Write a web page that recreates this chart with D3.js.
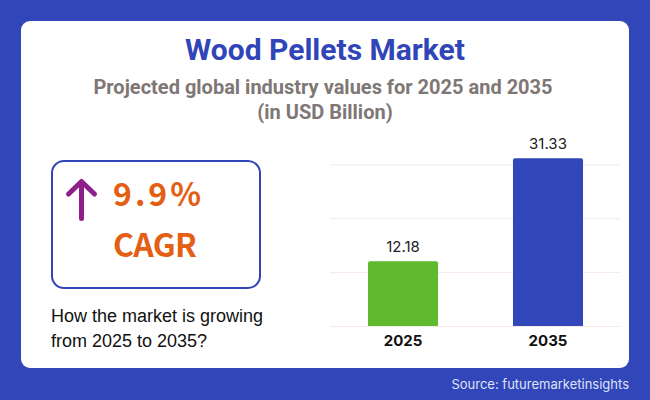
<!DOCTYPE html>
<html><head><meta charset="utf-8">
<script src="https://cdn.jsdelivr.net/npm/d3@7"></script>
<style>html,body{margin:0;padding:0;background:#3146b8}svg{display:block}</style>
</head><body>
<script>
const categories = ["2025", "2035"];
const values = [12.18, 31.33];
const barColors = ["#5fba2e", "#3146b8"];
const gridTicks = [0, 10, 20, 30];

const svg = d3.select("body").append("svg").attr("width", 650).attr("height", 400);
svg.append("rect").attr("width", 650).attr("height", 400).attr("fill", "#3146b8");
svg.append("rect").attr("x", 21).attr("y", 21).attr("width", 608).attr("height", 347).attr("rx", 9).attr("fill", "#fff");

function text(x, y, s, size, weight, fill, family, anchor) {
  return svg.append("text").attr("x", x).attr("y", y).attr("text-anchor", anchor || "middle")
    .attr("font-size", size).attr("font-weight", weight).attr("fill", fill).attr("font-family", family).text(s);
}
text(325, 60, "Wood Pellets Market", 30, 700, "#2f45b8", "Roboto");
text(323, 94, "Projected global industry values for 2025 and 2035", 20, 700, "#7f7775", "Roboto");
text(325, 119, "(in USD Billion)", 20, 700, "#7f7775", "Roboto");

svg.append("rect").attr("x", 52).attr("y", 161).attr("width", 208).attr("height", 127).attr("rx", 12)
  .attr("fill", "#fff").attr("stroke", "#3146b8").attr("stroke-width", 2);
svg.append("path").attr("d", "M81.5 218.5V181.5M68.5 194L81.5 181.5L94.5 194").attr("fill", "none")
  .attr("stroke", "#8e2089").attr("stroke-width", 5).attr("stroke-linecap", "round").attr("stroke-linejoin", "round");
text(113, 206, "9.9%", 32, 700, "#e35f14", "Noto Sans CJK SC", "start").attr("letter-spacing", 3);
text(113, 256.5, "CAGR", 32, 700, "#e35f14", "Noto Sans CJK SC", "start").attr("letter-spacing", -0.7);
text(51, 322, "How the market is growing", 18, 400, "#111", "Liberation Sans", "start");
text(51, 347, "from 2025 to 2035?", 18, 400, "#111", "Liberation Sans", "start");

const x = d3.scaleBand().domain(categories).range([330.5, 620.5]).paddingInner(0.517).paddingOuter(0.2585);
const y = d3.scaleLinear().domain([0, 30]).range([327, 165.3]);

svg.append("g").selectAll("line").data(gridTicks).join("line")
  .attr("x1", 330).attr("x2", 620).attr("y1", d => y(d) - 0.5).attr("y2", d => y(d) - 0.5)
  .attr("stroke", "#f6e8e8").attr("stroke-width", 1);

const rows = categories.map((c, i) => ({c, v: values[i], col: barColors[i]}));
svg.append("g").selectAll("path").data(rows).join("path")
  .attr("fill", d => d.col)
  .attr("d", d => {
    const l = x(d.c), r = l + x.bandwidth(), t = y(d.v), b = y(0) - 1, q = 2;
    return `M${l} ${b}V${t + q}Q${l} ${t} ${l + q} ${t}H${r - q}Q${r} ${t} ${r} ${t + q}V${b}Z`;
  });
svg.append("g").selectAll("text").data(rows).join("text")
  .attr("x", d => x(d.c) + x.bandwidth() / 2).attr("y", d => y(d.v) - 9)
  .attr("text-anchor", "middle").attr("font-family", "Inter").attr("font-size", 15).attr("fill", "#222")
  .text(d => d.v.toFixed(2));

const axis = svg.append("g").attr("transform", "translate(0,327)")
  .call(d3.axisBottom(x).tickSize(0).tickPadding(8));
axis.select(".domain").remove();
axis.selectAll("text").attr("font-family", "Inter").attr("font-size", 15).attr("font-weight", 700).attr("fill", "#111");

text(629, 389, "Source: futuremarketinsights", 13, 400, "#dfe3f7", "Inter", "end");
</script>
</body></html>
